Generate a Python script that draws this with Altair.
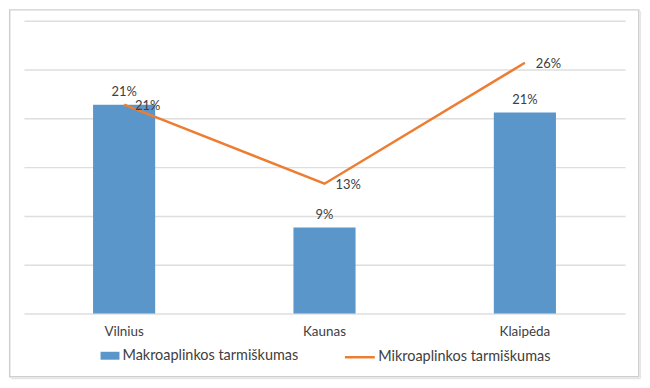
import altair as alt
import pandas as pd

cities = ["Vilnius", "Kaunas", "Klaipėda"]
makro = [0.214, 0.088, 0.206]
mikro = [0.214, 0.133, 0.257]
series = ["Makroaplinkos tarmiškumas", "Mikroaplinkos tarmiškumas"]
grid_values = [0, 0.05, 0.10, 0.15, 0.20, 0.25, 0.30]

FONT = "Lato"
TXT = "#404040"
BLUE = "#5b96cb"
ORANGE = "#ed7d31"

bars_df = pd.DataFrame({"city": cities, "value": makro, "series": series[0]})
line_df = pd.DataFrame({"city": cities, "value": mikro, "series": series[1]})

x_enc = alt.X(
    "city:N", sort=cities, title=None,
    scale=alt.Scale(paddingInner=0.69, paddingOuter=0.345),
    axis=alt.Axis(domain=False, ticks=False, labelAngle=0, labelPadding=11,
                  labelFont=FONT, labelFontSize=13.5, labelColor=TXT, grid=False),
)
y_enc = alt.Y(
    "value:Q", title=None,
    scale=alt.Scale(domain=[0, 0.30], nice=False),
    axis=alt.Axis(values=grid_values, labels=False, domain=False, ticks=False,
                  grid=True, gridColor="#dedede", gridWidth=1.5),
)

bars = alt.Chart(bars_df).mark_bar(color=BLUE).encode(
    x=x_enc, y=y_enc,
    fill=alt.Fill("series:N", scale=alt.Scale(domain=[series[0]], range=[BLUE]),
                  legend=alt.Legend(title=None, orient="none", legendX=77, legendY=327,
                                    symbolType="M-1,-0.42H1V0.42H-1Z", symbolSize=361,
                                    symbolStrokeWidth=0, labelFont=FONT, labelFontSize=14.5,
                                    labelColor=TXT, labelOffset=3, labelLimit=0, padding=0)),
)
bar_labels = alt.Chart(bars_df).mark_text(
    baseline="middle", dy=-13, font=FONT, fontSize=13, color=TXT
).encode(x=alt.X("city:N", sort=cities), y="value:Q", text=alt.Text("value:Q", format=".0%"))

line = alt.Chart(line_df).mark_line(strokeWidth=2.5).encode(
    x=alt.X("city:N", sort=cities), y="value:Q",
    stroke=alt.Stroke("series:N", scale=alt.Scale(domain=[series[1]], range=[ORANGE]),
                      legend=alt.Legend(title=None, orient="none", legendX=321, legendY=321.5,
                                        symbolType="stroke", symbolSize=900, symbolStrokeWidth=2.5,
                                        labelFont=FONT, labelFontSize=14.5, labelColor=TXT,
                                        labelOffset=2, labelLimit=0, padding=0)),
)
line_labels = alt.Chart(line_df).mark_text(
    align="left", baseline="middle", dx=11, dy=1, font=FONT, fontSize=13, color=TXT
).encode(x=alt.X("city:N", sort=cities), y="value:Q", text=alt.Text("value:Q", format=".0%"))

frame_df = pd.DataFrame({"k": [0]})
frame = alt.Chart(frame_df).mark_rect(fill="transparent", stroke="#cfcfcf", strokeWidth=1.5).encode(
    x=alt.value(-14.3), x2=alt.value(617.7), y=alt.value(-11), y2=alt.value(357.5)
)
shadow_r = alt.Chart(frame_df).mark_rule(stroke="#e6e6e6", strokeWidth=1.5).encode(
    x=alt.value(619.3), y=alt.value(-9.5), y2=alt.value(359.3)
)
shadow_b = alt.Chart(frame_df).mark_rule(stroke="#e6e6e6", strokeWidth=1.5).encode(
    x=alt.value(-12.8), x2=alt.value(619.3), y=alt.value(359.3)
)

chart = alt.layer(frame, shadow_r, shadow_b, bars, bar_labels, line, line_labels).resolve_scale(
    fill="independent", stroke="independent"
).properties(
    width=604, height=294, padding=0, background="white"
).configure_view(stroke=None)

chart.save("out.html", embed_options={"renderer": "svg", "actions": False})
